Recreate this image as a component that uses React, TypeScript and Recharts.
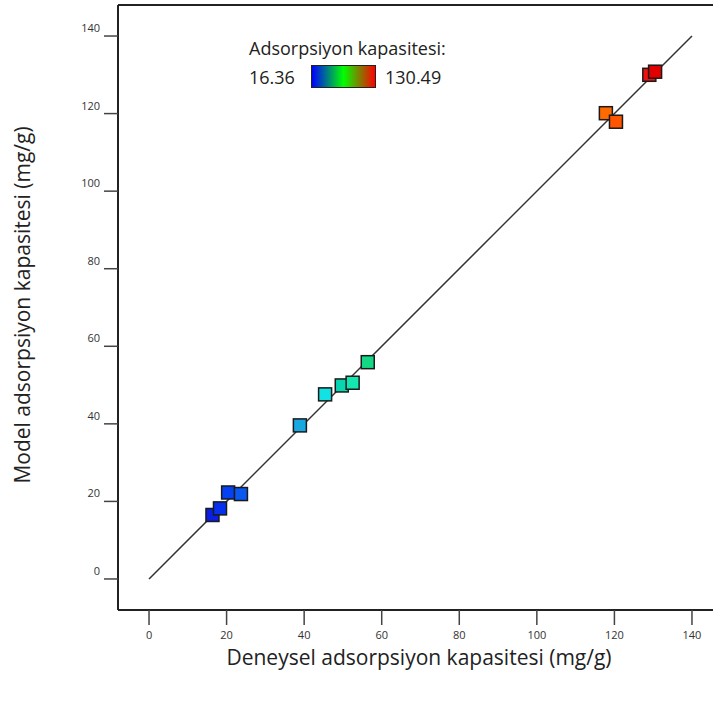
import { ScatterChart, Scatter, XAxis, YAxis, ReferenceLine, Cell } from 'recharts'

// experimental (x) vs model (y) adsorption capacity, mg/g
const experimental = [16.36, 18.3, 20.4, 23.7, 38.9, 45.4, 49.7, 52.5, 56.4, 117.8, 120.4, 129.0, 130.49]
const model = [16.5, 18.2, 22.3, 21.9, 39.6, 47.6, 49.9, 50.6, 55.9, 120.1, 117.9, 130.0, 130.8]
const pointColors = [
  '#0a1ee6', '#0630ee', '#0540f2', '#0a58f0', '#1aa8e0', '#12e2e2', '#08d6b0',
  '#14e6b0', '#14d886', '#ff6a00', '#ff5500', '#ef1010', '#e00000',
]
const axisTicks = [0, 20, 40, 60, 80, 100, 120, 140]
const fitLine = [{ x: 0, y: 0 }, { x: 140, y: 140 }]
const legendMin = '16.36'
const legendMax = '130.49'

const points = experimental.map((v, i) => ({ x: v, y: model[i] }))

const font = '"Open Sans", "Noto Sans", sans-serif'

function Square(props: any) {
  const { cx, cy, fill } = props
  return <rect x={cx - 6.5} y={cy - 6.5} width={13} height={13} fill={fill} stroke="#1a1a1a" strokeWidth={1.5} />
}

function XTick(props: any) {
  const { x, y, payload } = props
  return (
    <text x={x} y={y} dy={12} textAnchor="middle" fontSize={11} fill="#333" fontFamily={font}>
      {payload.value}
    </text>
  )
}

function YTick(props: any) {
  const { x, y, payload } = props
  return (
    <text x={x} y={y} dy={-4} textAnchor="end" fontSize={11} fill="#333" fontFamily={font}>
      {payload.value}
    </text>
  )
}

export default function App() {
  return (
    <div style={{ position: 'absolute', left: 0, top: 0, width: 713, height: 704, overflow: 'hidden', background: '#fff', fontFamily: font }}>
      <ScatterChart width={740} height={704} margin={{ top: 5, right: 17, bottom: 0, left: 0 }}>
        <XAxis
          type="number"
          dataKey="x"
          domain={[-8, 148]}
          ticks={axisTicks}
          height={94}
          tickSize={15}
          tickMargin={2}
          axisLine={{ stroke: '#222', strokeWidth: 2 }}
          tickLine={{ stroke: '#444', strokeWidth: 1.5 }}
          tick={<XTick />}
        />
        <YAxis
          type="number"
          dataKey="y"
          domain={[-8, 148]}
          ticks={axisTicks}
          width={118}
          tickSize={14}
          tickMargin={4}
          axisLine={{ stroke: '#222', strokeWidth: 2 }}
          tickLine={{ stroke: '#444', strokeWidth: 1.5 }}
          tick={<YTick />}
        />
        <ReferenceLine y={148} stroke="#222" strokeWidth={2} />
        <ReferenceLine segment={fitLine} stroke="#333" strokeWidth={1.5} />
        <Scatter data={points} shape={<Square />} isAnimationActive={false}>
          {points.map((p, i) => (
            <Cell key={`pt-${i}`} fill={pointColors[i]} />
          ))}
        </Scatter>
      </ScatterChart>

      <div style={{ position: 'absolute', left: 249, top: 36, fontSize: 18, lineHeight: '24px', color: '#222' }}>Adsorpsiyon kapasitesi:</div>
      <div style={{ position: 'absolute', left: 249, top: 65, fontSize: 18, lineHeight: '24px', color: '#222' }}>{legendMin}</div>
      <div
        style={{
          position: 'absolute', left: 311, top: 65, width: 63, height: 21,
          border: '1.5px solid #222',
          background: 'linear-gradient(to right, #0000ff, #00ff00, #ff0000)',
        }}
      />
      <div style={{ position: 'absolute', left: 385, top: 65, fontSize: 18, lineHeight: '24px', color: '#222' }}>{legendMax}</div>

      <div
        style={{
          position: 'absolute', left: 22, top: 305, fontSize: 21, color: '#222', whiteSpace: 'nowrap',
          transform: 'translate(-50%, -50%) rotate(-90deg)',
        }}
      >
        Model adsorpsiyon kapasitesi (mg/g)
      </div>
      <div
        style={{
          position: 'absolute', left: 419, top: 657, fontSize: 21, color: '#222', whiteSpace: 'nowrap',
          transform: 'translate(-50%, -50%)',
        }}
      >
        Deneysel adsorpsiyon kapasitesi (mg/g)
      </div>
    </div>
  )
}
